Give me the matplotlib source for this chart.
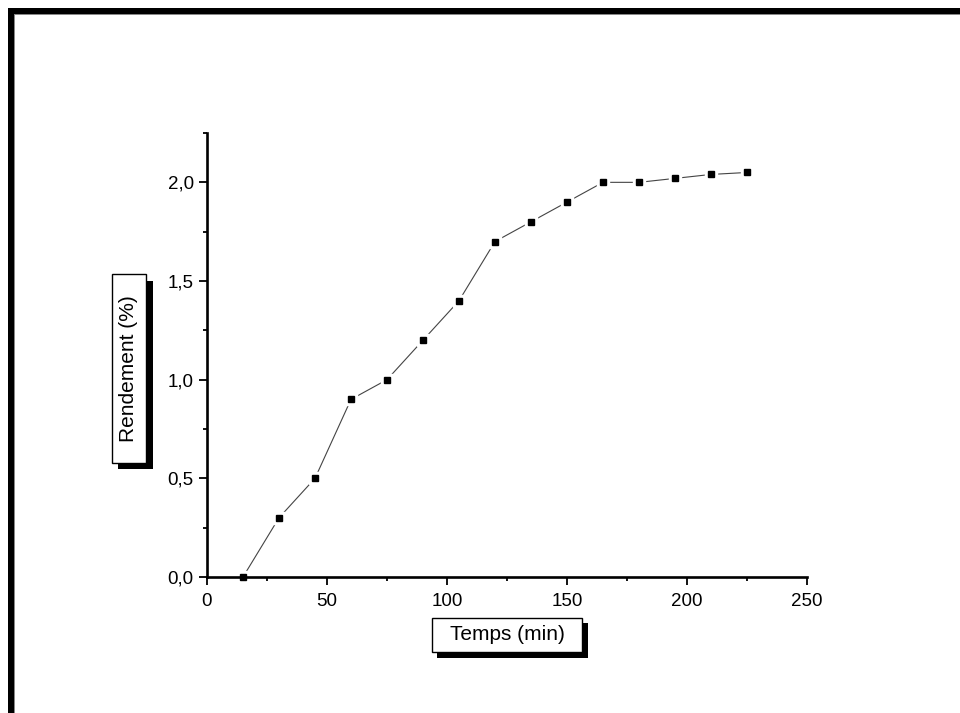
import matplotlib.pyplot as plt
import matplotlib.patches as mpatches
from matplotlib.ticker import MultipleLocator, FuncFormatter

plt.rcParams['font.family'] = ['Liberation Sans', 'DejaVu Sans']

temps = [15, 30, 45, 60, 75, 90, 105, 120, 135, 150, 165, 180, 195, 210, 225]
rendement = [0.0, 0.3, 0.5, 0.9, 1.0, 1.2, 1.4, 1.7, 1.8, 1.9, 2.0, 2.0, 2.02, 2.04, 2.05]

W, H = 960, 713
fig = plt.figure(figsize=(9.6, 7.13), dpi=100)
ax = fig.add_axes([207 / W, 1 - 577 / H, 600 / W, 444 / H])


def px_rect(x0, y0, x1, y1, **kw):
    # rectangle given in image pixels (origin top-left)
    r = mpatches.Rectangle((x0 / W, 1 - y1 / H), (x1 - x0) / W, (y1 - y0) / H,
                           transform=fig.transFigure, **kw)
    fig.add_artist(r)
    return r


# page frame (top and left only)
px_rect(8, 8, W + 2, 14, facecolor='black', edgecolor='none')
px_rect(8, 8, 14, H + 2, facecolor='black', edgecolor='none')
px_rect(14, 14, W + 2, 15, facecolor='#888888', edgecolor='none')
px_rect(14, 14, 15, H + 2, facecolor='#888888', edgecolor='none')

ax.plot(temps, rendement, color='#444444', linewidth=0.8, zorder=2)
ax.plot(temps, rendement, linestyle='none', marker='s', markersize=8.5,
        color='white', zorder=2.2, clip_on=False)
ax.plot(temps, rendement, linestyle='none', marker='s', markersize=5,
        color='black', zorder=4, clip_on=False)

ax.set_xlim(0, 250)
ax.set_ylim(0, 2.25)
ax.xaxis.set_major_locator(MultipleLocator(50))
ax.xaxis.set_minor_locator(MultipleLocator(25))
ax.yaxis.set_major_locator(MultipleLocator(0.5))
ax.yaxis.set_minor_locator(MultipleLocator(0.25))
ax.yaxis.set_major_formatter(FuncFormatter(lambda v, p: f'{v:.1f}'.replace('.', ',')))

for side in ['top', 'right']:
    ax.spines[side].set_visible(False)
for side in ['left', 'bottom']:
    ax.spines[side].set_linewidth(1.9)
ax.tick_params(which='major', direction='out', length=6, width=1.3,
               labelsize=13.5, pad=3.5)
ax.tick_params(axis='x', which='major', pad=5.5)
ax.tick_params(which='minor', direction='out', length=3.2, width=1.3)

# axis label boxes with drop shadow
px_rect(118, 281, 153, 469, facecolor='black', edgecolor='none')
px_rect(112, 274, 146, 463, facecolor='white', edgecolor='black', linewidth=1)
fig.text(129 / W, 1 - 368.5 / H, 'Rendement (%)', rotation=90, fontsize=15,
         ha='center', va='center')

px_rect(437, 623, 588, 658, facecolor='black', edgecolor='none')
px_rect(432, 618, 582, 652, facecolor='white', edgecolor='black', linewidth=1)
fig.text(507 / W, 1 - 635 / H, 'Temps (min)', fontsize=15,
         ha='center', va='center')

fig.savefig('out.png', dpi=100)
